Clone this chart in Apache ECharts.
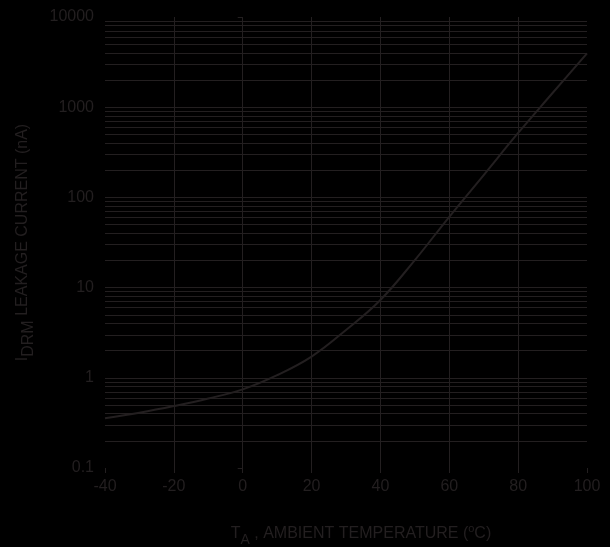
<!DOCTYPE html>
<html>
<head>
<meta charset="utf-8">
<script src="https://cdn.jsdelivr.net/npm/echarts@6/dist/echarts.min.js"></script>
<style>
html,body{margin:0;padding:0;background:#000;}
#chart{width:610px;height:547px;}
</style>
</head>
<body>
<div id="chart"></div>
<script>
// Data
const temperatures = [-40, -30, -20, -10, 0, 10, 20, 30, 40, 50, 60, 70, 80, 90, 100];
const leakageNA = [0.356, 0.41, 0.486, 0.59, 0.745, 1.07, 1.72, 3.39, 7.3, 20.2, 61, 177, 518, 1436, 3960];
const xTicks = [-40, -20, 0, 20, 40, 60, 80, 100];
const yDecades = [0.1, 1, 10, 100, 1000, 10000];
const minorMultipliers = [2, 3, 4, 5, 6, 7, 8, 9];

const ink = '#231f20';
const font = 'Liberation Sans, Arial, Helvetica, sans-serif';

const minorLines = [];
yDecades.slice(0, -1).forEach(d => minorMultipliers.forEach(m => minorLines.push({ yAxis: +(d * m).toPrecision(3) })));

const chart = echarts.init(document.getElementById('chart'), null, { renderer: 'canvas' });
chart.setOption({
  backgroundColor: '#000',
  animation: false,
  grid: { left: 105, right: 23, top: 17, bottom: 79, containLabel: false, outerBoundsMode: 'none' },
  xAxis: {
    type: 'value', min: -40, max: 100, interval: 20,
    axisLine: { show: false },
    axisTick: { show: true, length: 5, lineStyle: { color: ink, width: 1 } },
    axisLabel: { color: ink, fontSize: 16, fontFamily: font, margin: 11 },
    splitLine: { show: true, showMinLine: false, showMaxLine: false, lineStyle: { color: ink, width: 1 } },
    name: '{a|T}{sub|A}{a| , AMBIENT TEMPERATURE (}{sup|o}{a|C)}',
    nameLocation: 'middle', nameGap: 53,
    nameTextStyle: {
      padding: [0, 0, 0, 30],
      rich: {
        a: { color: ink, fontSize: 16, fontFamily: font },
        sub: { color: ink, fontSize: 14, fontFamily: font, padding: [12, 0, 0, 0] },
        sup: { color: ink, fontSize: 11, fontFamily: font, padding: [0, 0, 10, 0] }
      }
    }
  },
  yAxis: {
    type: 'log', logBase: 10, min: 0.1, max: 10000,
    axisLine: { show: false },
    axisTick: { show: true, length: 5, lineStyle: { color: ink, width: 1 } },
    axisLabel: { color: ink, fontSize: 16, fontFamily: font, margin: 11,
      formatter: v => String(+v.toPrecision(3)) },
    splitLine: { show: true, showMinLine: false, showMaxLine: false, lineStyle: { color: ink, width: 1 } },
    minorTick: { show: false }, minorSplitLine: { show: false },
    name: '{a|I}{sub|DRM}{a| LEAKAGE CURRENT (nA)}',
    nameLocation: 'middle', nameGap: 68, nameRotate: 90,
    nameTextStyle: {
      rich: {
        a: { color: ink, fontSize: 16, fontFamily: font },
        sub: { color: ink, fontSize: 16, fontFamily: font, padding: [12, 0, 0, 0] }
      }
    }
  },
  series: [{
    type: 'line',
    data: temperatures.map((t, i) => [t, leakageNA[i]]),
    smooth: 0.4,
    showSymbol: false,
    lineStyle: { color: ink, width: 2 },
    markLine: {
      silent: true, symbol: 'none', animation: false,
      label: { show: false },
      lineStyle: { color: ink, width: 1, type: 'solid' },
      data: minorLines
    }
  }]
});
</script>
</body>
</html>
